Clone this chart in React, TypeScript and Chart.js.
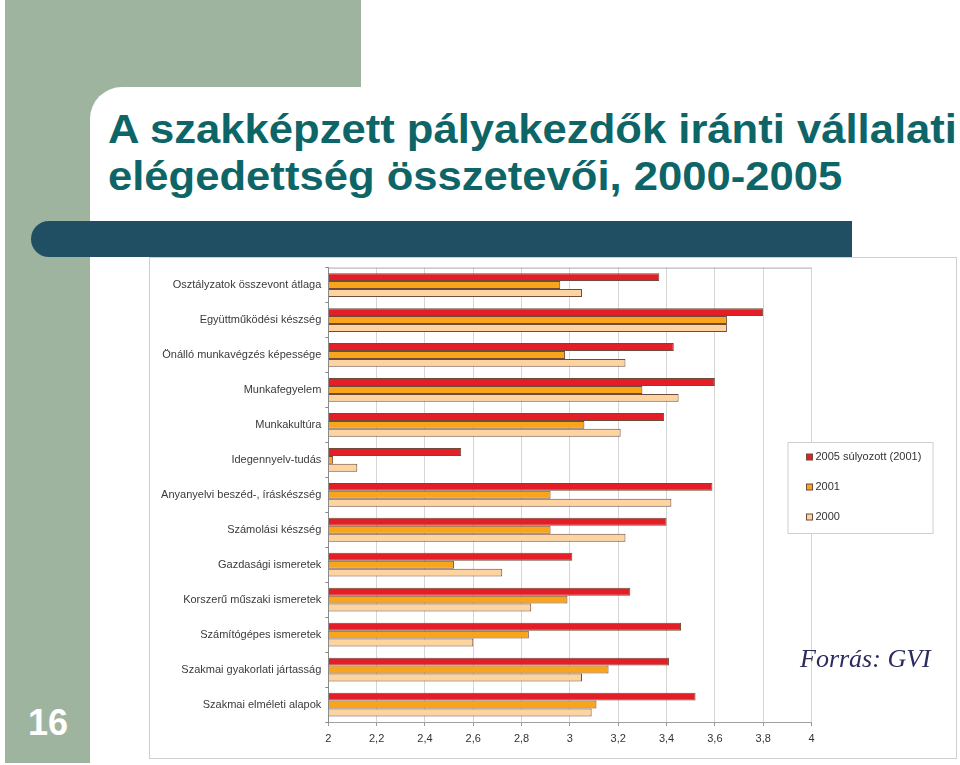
import React, { useEffect, useRef } from "react";
import { Chart, registerables } from "chart.js";

Chart.register(...registerables);

const categories = [
  "Osztályzatok összevont átlaga",
  "Együttműködési készség",
  "Önálló munkavégzés képessége",
  "Munkafegyelem",
  "Munkakultúra",
  "Idegennyelv-tudás",
  "Anyanyelvi beszéd-, íráskészség",
  "Számolási készség",
  "Gazdasági ismeretek",
  "Korszerű műszaki ismeretek",
  "Számítógépes ismeretek",
  "Szakmai gyakorlati jártasság",
  "Szakmai elméleti alapok",
];

const seriesNames = ["2005 súlyozott (2001)", "2001", "2000"];
const values2005 = [3.37, 3.8, 3.43, 3.6, 3.39, 2.55, 3.59, 3.4, 3.01, 3.25, 3.46, 3.41, 3.52];
const values2001 = [2.96, 3.65, 2.98, 3.3, 3.06, 2.02, 2.92, 2.92, 2.52, 2.99, 2.83, 3.16, 3.11];
const values2000 = [3.05, 3.65, 3.23, 3.45, 3.21, 2.12, 3.42, 3.23, 2.72, 2.84, 2.6, 3.05, 3.09];

const xTickLabels = ["2", "2,2", "2,4", "2,6", "2,8", "3", "3,2", "3,4", "3,6", "3,8", "4"];
const xMin = 2;
const xMax = 4;
const xStep = 0.2;

const seriesColors = ["#e41e26", "#f8a51b", "#fdd3a0"];
const barBorder = "#6e4b3c";
const FONT = "'Liberation Sans', Arial, sans-serif";

const frameLegend = {
  id: "frameLegend",
  beforeDatasetsDraw(chart: any) {
    const { ctx, chartArea } = chart;
    ctx.save();
    ctx.strokeStyle = "#a8a8a8";
    ctx.lineWidth = 1;
    ctx.beginPath();
    ctx.moveTo(chartArea.left, chartArea.top + 0.5);
    ctx.lineTo(chartArea.right, chartArea.top + 0.5);
    ctx.stroke();
    ctx.restore();
  },
  afterDraw(chart: any) {
    const { ctx, chartArea } = chart;
    const bx = chartArea.right - 23.5;
    const by = 185.5;
    const bw = 145;
    const bh = 91;
    ctx.save();
    ctx.fillStyle = "#ffffff";
    ctx.fillRect(bx, by, bw, bh);
    ctx.strokeStyle = "#d0d0d0";
    ctx.lineWidth = 1;
    ctx.strokeRect(bx, by, bw, bh);
    ctx.font = "11px " + FONT;
    ctx.textBaseline = "middle";
    ctx.textAlign = "left";
    chart.data.datasets.forEach((ds: any, i: number) => {
      const cy = 200 + i * 30;
      ctx.fillStyle = ds.backgroundColor;
      ctx.fillRect(bx + 18.5, cy - 3, 6, 6);
      ctx.strokeStyle = barBorder;
      ctx.strokeRect(bx + 18.5, cy - 3, 6, 6);
      ctx.fillStyle = "#333333";
      ctx.fillText(ds.label, bx + 27.5, cy);
    });
    ctx.restore();
  },
};

function BarChart() {
  const ref = useRef<HTMLCanvasElement | null>(null);
  useEffect(() => {
    if (!ref.current) return;
    const data = [values2005, values2001, values2000];
    const chart = new Chart(ref.current, {
      type: "bar",
      data: {
        labels: categories,
        datasets: seriesNames.map((name, i) => ({
          label: name,
          data: data[i],
          backgroundColor: seriesColors[i],
          borderColor: barBorder,
          borderWidth: 1,
          base: xMin,
          categoryPercentage: 0.68,
          barPercentage: 1.0,
        })),
      },
      options: {
        indexAxis: "y",
        animation: false,
        responsive: false,
        layout: { padding: { left: 0, right: 145.5, top: 7, bottom: 0 } },
        plugins: {
          legend: { display: false },
          tooltip: { enabled: false },
        },
        scales: {
          x: {
            type: "linear",
            min: xMin,
            max: xMax,
            ticks: {
              stepSize: xStep,
              color: "#333333",
              font: { family: FONT, size: 11 },
              padding: 6,
              callback: (_v: any, i: number) => xTickLabels[i],
            },
            grid: {
              color: "#d6d6d6",
              tickLength: 4,
              tickColor: "#999999",
            },
            border: { color: "#a0a0a0" },
            afterFit: (s: any) => {
              s.height = 37;
            },
          },
          y: {
            type: "category",
            ticks: {
              color: "#3a3a3a",
              font: { family: FONT, size: 11 },
              padding: 4,
              autoSkip: false,
            },
            grid: {
              drawOnChartArea: false,
              tickLength: 3,
              color: "#8a8a8a",
            },
            border: { color: "#8a8a8a" },
            afterFit: (s: any) => {
              s.width = 179.3;
            },
          },
        },
      },
      plugins: [frameLegend],
    } as any);
    return () => chart.destroy();
  }, []);
  return <canvas ref={ref} width={808} height={502} style={{ display: "block", width: 808, height: 502 }} />;
}

export default function App() {
  const abs = (o: React.CSSProperties): React.CSSProperties => ({ position: "absolute", ...o });
  return (
    <div style={abs({ left: 0, top: 0, width: 960, height: 765, overflow: "hidden", background: "#ffffff" })}>
      <div style={abs({ left: 5, top: 0, width: 356, height: 120, background: "#9fb49f" })} />
      <div style={abs({ left: 5, top: 0, width: 85, height: 763, background: "#9fb49f" })} />
      <div style={abs({ left: 90, top: 87, width: 870, height: 678, background: "#ffffff", borderTopLeftRadius: 32 })} />
      <div
        style={abs({
          left: 108,
          top: 105.6,
          fontFamily: FONT,
          fontWeight: "bold",
          fontSize: 40,
          lineHeight: "47px",
          color: "#0e6567",
          whiteSpace: "nowrap",
          transform: "scaleX(1.09)",
          transformOrigin: "left top",
        })}
      >
        A szakképzett pályakezdők iránti vállalati
        <br />
        elégedettség összetevői, 2000-2005
      </div>
      <div style={abs({ left: 31, top: 221, width: 821, height: 36, background: "#204f63", borderRadius: "18px 0 0 18px" })} />
      <div style={abs({ left: 149, top: 257, width: 808, height: 502, boxSizing: "border-box", border: "1px solid #cfcfcf" })} />
      <div style={abs({ left: 149, top: 257 })}>
        <BarChart />
      </div>
      <div
        style={abs({
          left: 800,
          top: 646,
          fontFamily: "'Liberation Serif', 'Times New Roman', serif",
          fontStyle: "italic",
          fontSize: 26,
          lineHeight: "26px",
          color: "#2b2b5e",
          whiteSpace: "nowrap",
        })}
      >
        Forrás: GVI
      </div>
      <div
        style={abs({
          left: 28,
          top: 705,
          fontFamily: FONT,
          fontWeight: "bold",
          fontSize: 36,
          lineHeight: "36px",
          color: "#ffffff",
        })}
      >
        16
      </div>
    </div>
  );
}
